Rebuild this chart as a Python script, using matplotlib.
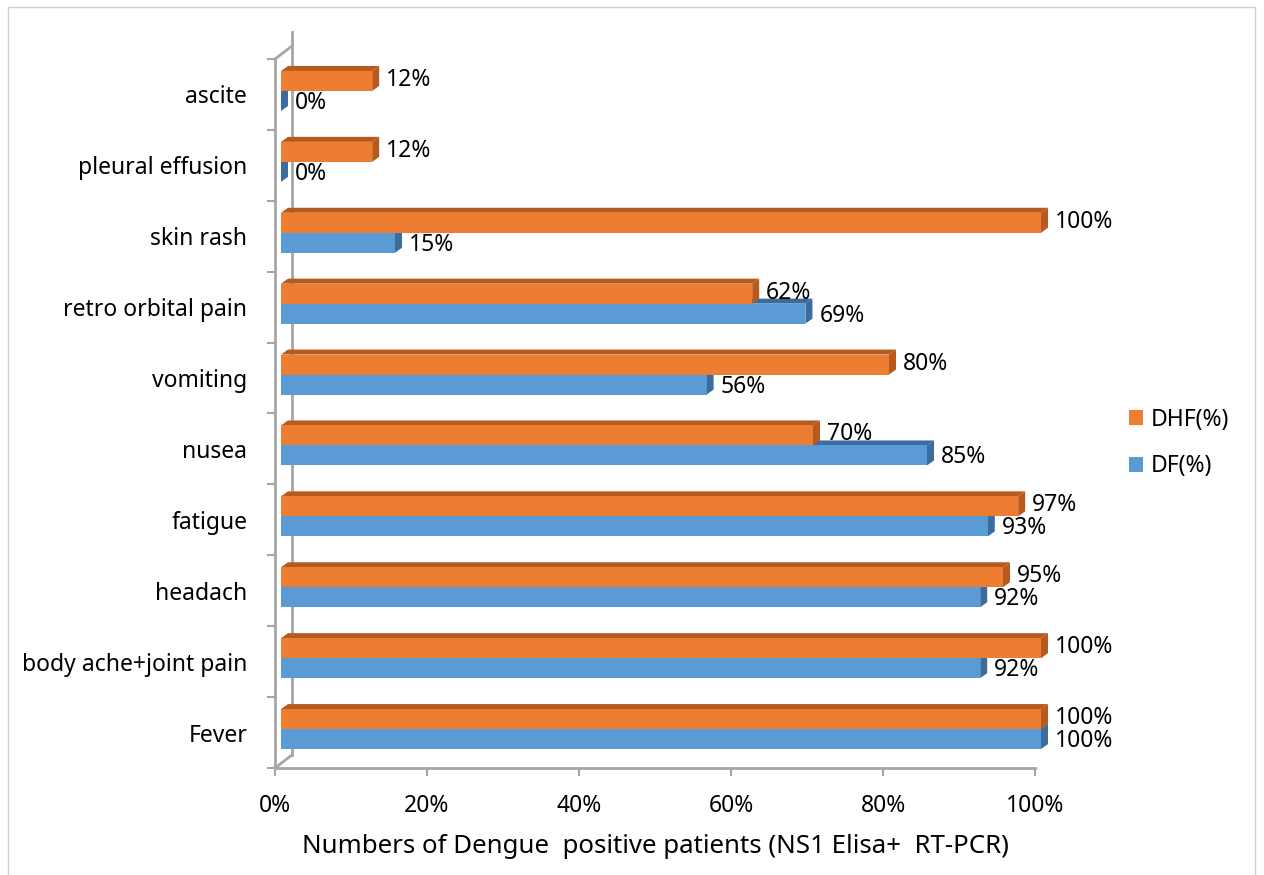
import matplotlib
matplotlib.use("Agg")
import matplotlib.pyplot as plt
import matplotlib.transforms as mtransforms
from matplotlib.patches import Rectangle, Polygon, Patch

plt.rcParams['font.family'] = ['Noto Sans', 'DejaVu Sans']

# data (bottom to top)
symptoms = ['Fever', 'body ache+joint pain', 'headach', 'fatigue', 'nusea',
            'vomiting', 'retro orbital pain', 'skin rash', 'pleural effusion', 'ascite']
dhf = [100, 100, 95, 97, 70, 80, 62, 100, 12, 12]
df = [100, 92, 92, 93, 85, 56, 69, 15, 0, 0]
xticks = [0, 20, 40, 60, 80, 100]

ORANGE = '#ED7D31'
ORANGE_D = '#B85A1E'
BLUE = '#5B9BD5'
BLUE_D = '#3A6C9E'
GRID = '#A6A6A6'
FS = 16.5

W, H = 1264, 875
fig = plt.figure(figsize=(W / 100, H / 100), dpi=100)
ax = fig.add_axes([275 / W, 107 / H, 760 / W, 709 / H])
ax.set_xlim(0, 1)
ax.set_ylim(-0.5, len(symptoms) - 0.5)
ax.set_autoscale_on(False)

# chart frame
fig.add_artist(Rectangle((8 / W, -0.01), 1247 / W, (H - 7) / H + 0.01,
                         transform=fig.transFigure, fill=False,
                         edgecolor='#D0D0D0', lw=1))

# axes lines (front of 3d wall)
for s in ['top', 'right']:
    ax.spines[s].set_visible(False)
for s in ['left', 'bottom']:
    ax.spines[s].set_color(GRID)
    ax.spines[s].set_linewidth(2)

# back of the wall
depth = mtransforms.ScaledTranslation(17 / 100, 13 / 100, fig.dpi_scale_trans)
ax.plot([0, 0], [0, 1.02], color=GRID, lw=2, transform=ax.transAxes + depth,
        clip_on=False, zorder=1)
for ypos in [0, 1]:
    ax.annotate('', xy=(0, ypos), xycoords='axes fraction', xytext=(17, 13),
                textcoords='offset pixels',
                arrowprops=dict(arrowstyle='-', color=GRID, lw=2,
                                shrinkA=0, shrinkB=0))

ax.set_xticks([t / 100 for t in xticks])
ax.set_xticklabels([f'{t}%' for t in xticks], fontsize=FS)
ax.tick_params(axis='x', length=6, width=1.5, color=GRID, pad=13)
ax.set_yticks(range(len(symptoms)))
ax.set_yticklabels(symptoms, fontsize=FS)
ax.set_yticks([i - 0.5 for i in range(len(symptoms) + 1)], minor=True)
ax.tick_params(axis='y', which='major', length=0, pad=20)
ax.tick_params(axis='y', which='minor', length=6, width=1.5, color=GRID)
ax.set_xlabel('Numbers of Dengue  positive patients (NS1 Elisa+  RT-PCR)',
              fontsize=18.6, labelpad=11)

bh = 0.282      # bar height in data units
sx, sy = 6, 3.5  # shift of bar front face (pixels)
dx, dy = 7, 5    # depth of bar (pixels)
ident = mtransforms.IdentityTransform()


def bar3d(y0, v, face, dark, ly):
    (x0, b0), (x1, b1) = ax.transData.transform([(0, y0), (v / 100, y0 + bh)])
    x0, x1 = x0 + sx, x1 + sx
    b0, b1 = b0 + sy, b1 + sy
    kw = dict(transform=ident, clip_on=False, lw=0, zorder=3)
    ax.add_patch(Polygon([(x0, b1), (x1, b1), (x1 + dx, b1 + dy), (x0 + dx, b1 + dy)],
                         facecolor=dark, **kw))
    ax.add_patch(Polygon([(x1, b0), (x1 + dx, b0 + dy), (x1 + dx, b1 + dy), (x1, b1)],
                         facecolor=dark, **kw))
    ax.add_patch(Rectangle((x0, b0), x1 - x0, b1 - b0, facecolor=face, **kw))
    ax.annotate(f'{v}%', xy=(v / 100, y0 + bh / 2), xytext=(sx + dx + 7, sy + ly),
                textcoords='offset pixels', va='center', ha='left',
                fontsize=FS, zorder=5)


for i in range(len(symptoms)):
    bar3d(i - bh, df[i], BLUE, BLUE_D, -2)
    bar3d(i, dhf[i], ORANGE, ORANGE_D, 1)

handles = [Patch(facecolor=ORANGE, label='DHF(%)'), Patch(facecolor=BLUE, label='DF(%)')]
fig.legend(handles=handles, loc='center left',
           bbox_to_anchor=(1129 / W, (H - 443) / H), bbox_transform=fig.transFigure,
           frameon=False, fontsize=FS, borderpad=0, borderaxespad=0,
           handlelength=0.6, handleheight=0.6, handletextpad=0.35,
           labelspacing=1.0)

fig.savefig('out.png', dpi=100)
